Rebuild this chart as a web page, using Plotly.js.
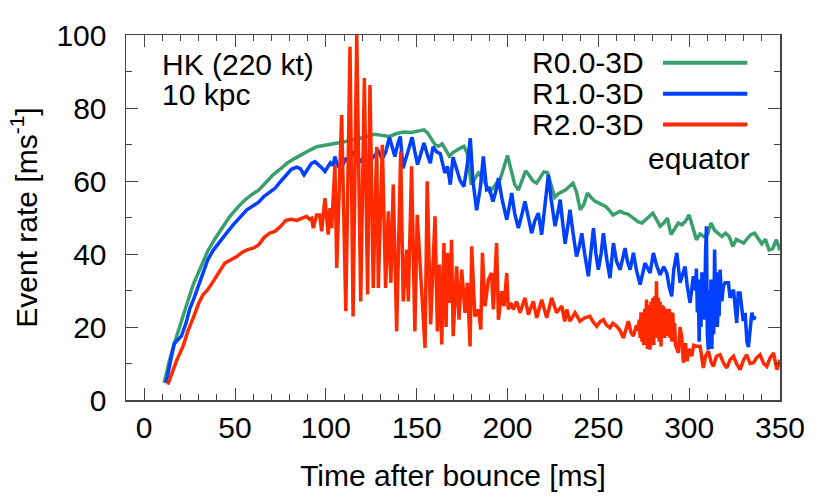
<!DOCTYPE html>
<html>
<head>
<meta charset="utf-8">
<script src="https://cdn.plot.ly/plotly-3.0.1.min.js"></script>
<style>
  body { margin: 0; background: #fff; }
  #chart { width: 830px; height: 498px; }
</style>
</head>
<body>
<div id="chart"></div>
<script>
// R0.0-3D (green)
var timeR0 = [11, 14, 17, 20, 23, 27, 31, 35, 39, 43, 47, 51, 55, 59, 63, 67, 71, 75, 79, 83, 87, 91, 95, 99,
  103, 107, 111, 115, 119, 123, 127, 131, 135, 139, 143, 147, 151, 154, 156, 158, 160, 162, 164, 166, 168, 170,
  172, 174, 176, 178, 180, 182, 184, 186, 188, 190, 192, 194, 196, 198, 200, 202, 204, 206, 208, 210, 212, 214,
  216, 218, 220, 222, 224, 226, 228, 230, 232, 234, 236, 238, 240, 242, 244, 246, 248, 250, 252, 254, 256, 258,
  260, 262, 264, 266, 268, 270, 272, 274, 276, 278, 280, 282, 284, 286, 288, 290, 292, 294, 296, 298, 300, 302,
  304, 306, 308, 310, 312, 314, 316, 318, 320, 322, 324, 326, 328, 330, 332, 334, 336, 338, 340, 342, 344, 346,
  348, 350];
var rateR0 = [4.7, 11, 16.1, 21, 25.5, 31.6, 36.5, 40.8, 44.2, 47.4, 50.2, 52.5, 54.6, 56.2, 57.5, 59.6, 61.7, 63.3,
  65, 66.2, 67.4, 68.4, 69.4, 69.7, 70.2, 70.5, 70.8, 71.4, 71.7, 72.3, 72.8, 72.5, 72.2, 73, 73.4, 73.3, 73.8, 74,
  73.2, 71.5, 70, 69.5, 70.2, 68.5, 66.8, 67.8, 68.5, 69, 69.5, 67.5, 59, 60.5, 62.2, 61, 59, 57.2, 58, 59.5, 60.5,
  64, 67, 63, 59, 57.5, 60, 62.8, 61.5, 60, 59.4, 61, 62.5, 62.3, 58.5, 55.5, 56.5, 57, 57.6, 58.5, 59.4, 57, 52.1,
  53.5, 56.7, 55.5, 54.5, 54, 53.5, 53, 52, 50.7, 51.2, 51.7, 51.2, 51, 50.3, 49.5, 48.8, 48.5, 49.5, 50.5, 51.2,
  49.5, 47.6, 48.5, 49.8, 45.3, 47, 48.5, 48, 49, 50.7, 47.5, 43.9, 45.5, 44.8, 45.2, 48.5, 46.5, 45.7, 44.8, 45.7,
  44.8, 42.1, 44, 43.5, 43, 44.2, 45.3, 45.7, 44.3, 42.8, 44, 41.1, 41.5, 43.9, 41];

// R1.0-3D (blue)
var timeR1 = [12, 14, 16.5, 18.5, 20.5, 23, 25, 27.5, 30, 33, 35, 38, 41.5, 45, 49, 53, 56.5, 60, 63, 66, 69, 72,
  75, 78, 81, 84, 86, 88, 90, 92, 94, 96, 98, 99.5, 101, 102.5, 104, 105, 106, 107, 109, 111, 113, 115, 117, 119,
  121, 123, 125, 127, 129, 131, 133, 135, 136.5, 138, 139.5, 141, 142.5, 144, 146, 147.5, 149, 150.5, 152, 154,
  156, 157.5, 159, 161, 163, 165.5, 167, 168.5, 170, 172, 174, 176, 178, 179.5, 181, 183, 185, 186.7, 188.5, 190,
  192, 194, 195, 197, 199.6, 201, 202.3, 204, 206, 208, 209.6, 211.5, 213.3, 215, 217, 218.8, 220.5, 222.5, 224,
  226.2, 228, 229, 230.5, 231.7, 233, 234.4, 236, 238, 239.5, 240.9, 242.5, 244.5, 246, 247.3, 248.7, 250, 251.5,
  252.8, 254.5, 256.4, 258.3, 260, 262, 264.7, 266, 267.5, 269.3, 271, 273, 275.7, 278.5, 280.3, 282, 284, 286,
  287.7, 289, 290.4, 291.5, 293.2, 295, 297.7, 299, 300.5, 302.3, 303.5, 304, 304.5, 305, 305.5, 306, 306.5, 307,
  307.5, 308, 308.5, 309, 309.5, 310, 310.5, 311, 311.5, 312, 312.5, 313, 313.5, 314, 314.5, 315, 315.5, 316,
  316.5, 317, 318, 318.8, 319.8, 321.6, 322.5, 324.4, 325.3, 326.2, 327, 328, 329, 329.8, 330.8, 331.8, 332.6,
  333.5, 334.5, 335.5, 336.3];
var rateR1 = [4.7, 10, 15.4, 16.5, 17.5, 21, 24.8, 28, 31.5, 35.5, 38.4, 41, 43.4, 45.5, 48, 50.2, 52.1, 53.2, 54.2,
  55.8, 56.9, 58, 59.8, 61.5, 63.2, 63.8, 63.4, 61.7, 63.5, 64.8, 65.3, 64.5, 63.5, 62.6, 64, 65, 64.2, 66.7, 65,
  64, 64.2, 66, 65.5, 68, 66.5, 65.5, 66.5, 64.2, 66, 67, 68.1, 66, 68, 72, 69, 66.7, 70, 72.2, 63.5, 66, 69, 72,
  68, 64.5, 67, 70.4, 67, 64.9, 69.4, 68, 67.5, 62.2, 64, 59, 66.5, 63.5, 60, 58.5, 65, 71.7, 60, 52, 58, 66.7,
  57.6, 58, 54.4, 58, 60.8, 55, 49.4, 53, 56.7, 51, 47.1, 51, 54.4, 50, 45.7, 49, 51.2, 45.3, 53, 61.7, 55, 47.6,
  52, 54.9, 48, 42.8, 47, 52.1, 46, 39.3, 42, 45.7, 40, 33.9, 41, 47.1, 40, 35.7, 40, 45.7, 39, 33.4, 43, 38, 35.7,
  41.6, 38, 35.7, 40.3, 35.5, 31.6, 37.5, 34.8, 40.3, 37, 34.3, 36.5, 34.8, 31, 28.4, 35.7, 40.3, 32.1, 36.6, 31,
  26.6, 33.9, 30, 36, 24, 33, 16, 30, 20, 35, 26, 34, 22, 40, 47.6, 18, 13.8, 30, 16, 33, 14, 30, 18, 41.2, 28, 35,
  20, 26, 22.9, 35.7, 27, 31.1, 32.1, 32.1, 28, 30.2, 25, 21.1, 29.3, 29.3, 25, 21.6, 23.9, 16, 14.5, 20, 23.9,
  22, 23];

// R2.0-3D (red)
var timeR2 = [13, 15, 18, 21.4, 24, 27, 30, 32.5, 35, 38, 41, 44.4, 48, 51, 54, 57, 60, 63, 66, 69, 72, 75, 78, 81,
  84, 87.6, 89.4, 91, 92.2, 93.1, 94.9, 96.6, 97.7, 99.5, 101.3, 102.3, 103.2, 105, 106, 108.7, 111, 113.3, 115,
  117, 119.2, 121.2, 123, 124.3, 126.1, 128, 128.9, 131.1, 132.9, 134.4, 135.8, 137.1, 139, 141.2, 142.6, 144.5,
  145.4, 147.2, 149, 150.3, 152.8, 154.6, 155.8, 157.7, 160.1, 161.4, 162.5, 163.8, 165, 166.2, 166.9, 168.3,
  169.2, 170.1, 172, 173.3, 174.8, 176.6, 177.9, 179.4, 180.3, 182, 184, 185.3, 186.2, 187.6, 189.5, 191.2, 192.2,
  194, 195, 196.8, 198.1, 199.6, 200.4, 201.8, 203.2, 205, 206.9, 209.6, 211.5, 214.2, 216.1, 218.8, 221.6, 224.3,
  227, 229.9, 231.5, 232.6, 234.4, 237.2, 239.9, 242.5, 245.4, 247, 249.1, 251, 252.8, 254.5, 256.4, 258, 260.1,
  262, 263.8, 265, 266.5, 268, 269.3, 271, 272, 272.5, 273, 273.5, 274, 274.5, 275, 275.5, 276, 276.5, 277, 277.5,
  278, 278.5, 279, 279.5, 280, 280.5, 281, 281.5, 282, 282.5, 283, 283.5, 284, 284.5, 285, 285.5, 286, 286.5, 287,
  287.5, 288, 288.5, 289, 289.5, 290, 290.5, 291, 291.5, 292, 292.5, 294.1, 295, 296, 296.8, 298, 298.8, 300,
  301.4, 302.5, 304.2, 306, 307.8, 309, 310.6, 312, 313.3, 315, 317, 319, 320.7, 322.5, 324.4, 326, 328, 330,
  331.7, 333.5, 335.4, 337, 339, 341, 342.7, 344.5, 346.4, 348.3, 350];
var rateR2 = [4.2, 7, 11, 14.7, 18.8, 22.5, 26.5, 28.9, 30.2, 32.5, 35, 37.5, 38.5, 39.3, 40.5, 41.2, 41.6, 42.5,
  44.5, 45.7, 46.2, 47.5, 49.2, 49.5, 49.2, 49.8, 50.3, 49.5, 49.8, 47.1, 50.7, 50.7, 46.2, 55.3, 45.3, 52.6, 47.1,
  64.4, 36.2, 78.1, 24.3, 96.8, 22.9, 100, 27, 88.2, 28.9, 86.3, 30.7, 69.4, 30.7, 69.9, 30.7, 51.7, 32.1, 59, 18.8,
  68.1, 27, 41.2, 27, 64, 18.8, 50.7, 28.9, 14.3, 59.9, 20.7, 50.3, 18.8, 37.1, 15.2, 43, 20, 40.3, 26.6, 43.9,
  17.5, 36.6, 22, 35.7, 23.9, 32.1, 14.7, 42.1, 22.9, 24.8, 19.3, 40.3, 25.7, 33, 34.8, 24.8, 43, 22, 29.8, 25.7,
  34.8, 24.8, 26.6, 24.8, 27, 23.9, 28, 23.4, 27, 22.5, 27.5, 22.5, 28, 23.9, 25.7, 21.5, 24.8, 21.6, 23.9, 21.6,
  22.5, 22.9, 21.5, 20.2, 21.5, 22, 20.5, 19.8, 21, 20.2, 19, 17, 19.5, 21.6, 18.5, 17.5, 20.5, 19, 22, 17, 24, 16,
  22, 15, 25, 15, 27.5, 14, 26, 15, 13.8, 27, 15, 28, 15, 28.4, 17, 32.5, 19, 28, 16, 27, 14.7, 26, 17, 25.7, 17,
  25, 18, 24, 17.5, 25, 17, 24, 16, 23.9, 17.5, 21, 15, 12.9, 20, 17, 10.2, 15.6, 10.6, 14, 12, 15, 14.7, 14.7,
  8.8, 12, 13.4, 10.5, 9.2, 12, 12.4, 10, 8.8, 11, 12, 10, 8.3, 11, 12.4, 10, 10.2, 11.5, 12.4, 10, 9.2, 11.5,
  12.9, 8.3, 11];

var seriesNames = ['R0.0-3D', 'R1.0-3D', 'R2.0-3D'];
var seriesColors = ['#3a9f6c', '#0040ff', '#ff2a00'];

var fontFamily = '"Liberation Sans", Arial, Helvetica, sans-serif';

var traces = [
  { x: timeR0, y: rateR0, name: seriesNames[0] },
  { x: timeR1, y: rateR1, name: seriesNames[1] },
  { x: timeR2, y: rateR2, name: seriesNames[2] }
].map(function (t, i) {
  t.type = 'scatter';
  t.mode = 'lines';
  t.line = { color: seriesColors[i], width: 3.5 };
  return t;
});

// hand-made legend: label text, then a line sample on its right
var legendY = [0.924, 0.839, 0.755];
var annotations = [
  { text: 'HK (220 kt)', x: 0.052, y: 0.918 },
  { text: '10 kpc', x: 0.052, y: 0.836 }
].map(function (a) {
  return { text: a.text, x: a.x, y: a.y, xref: 'paper', yref: 'paper', xanchor: 'left', yanchor: 'middle',
    showarrow: false, font: { size: 30, color: '#000' } };
});
var shapes = [];
seriesNames.forEach(function (nm, i) {
  annotations.push({ text: nm, x: 0.795, y: legendY[i], xref: 'paper', yref: 'paper', xanchor: 'right',
    yanchor: 'middle', showarrow: false, font: { size: 30, color: '#000' } });
  shapes.push({ type: 'line', xref: 'paper', yref: 'paper', x0: 0.821, x1: 0.950, y0: legendY[i], y1: legendY[i],
    line: { color: seriesColors[i], width: 4 } });
});
annotations.push({ text: 'equator', x: 0.957, y: 0.663, xref: 'paper', yref: 'paper', xanchor: 'right',
  yanchor: 'middle', showarrow: false, font: { size: 30, color: '#000' } });

var layout = {
  width: 830,
  height: 498,
  margin: { l: 126, r: 50, t: 35, b: 98 },
  showlegend: false,
  paper_bgcolor: '#fff',
  plot_bgcolor: '#fff',
  font: { family: fontFamily, size: 30, color: '#000' },
  xaxis: {
    range: [-10, 350],
    dtick: 50,
    tick0: 0,
    ticks: 'inside',
    ticklen: 12,
    tickcolor: '#444',
    showline: true,
    linecolor: '#444',
    linewidth: 1.5,
    mirror: 'ticks',
    showgrid: false,
    zeroline: false,
    ticklabelstandoff: 0,
    minor: { dtick: 10, ticks: 'inside', ticklen: 6, tickcolor: '#444', showgrid: false },
    title: { text: 'Time after bounce [ms]', standoff: 22, font: { size: 30 } }
  },
  yaxis: {
    range: [0, 100],
    dtick: 20,
    ticks: 'inside',
    ticklen: 12,
    tickcolor: '#444',
    showline: true,
    linecolor: '#444',
    linewidth: 1.5,
    mirror: 'ticks',
    showgrid: false,
    zeroline: false,
    ticklabelstandoff: 12,
    minor: { dtick: 10, ticks: 'inside', ticklen: 6, tickcolor: '#444', showgrid: false },
    title: { text: 'Event rate [ms<sup>-1</sup>]', standoff: 10, font: { size: 30 } }
  },
  annotations: annotations,
  shapes: shapes
};

Plotly.newPlot('chart', traces, layout, { displayModeBar: false, staticPlot: true });
</script>
</body>
</html>
